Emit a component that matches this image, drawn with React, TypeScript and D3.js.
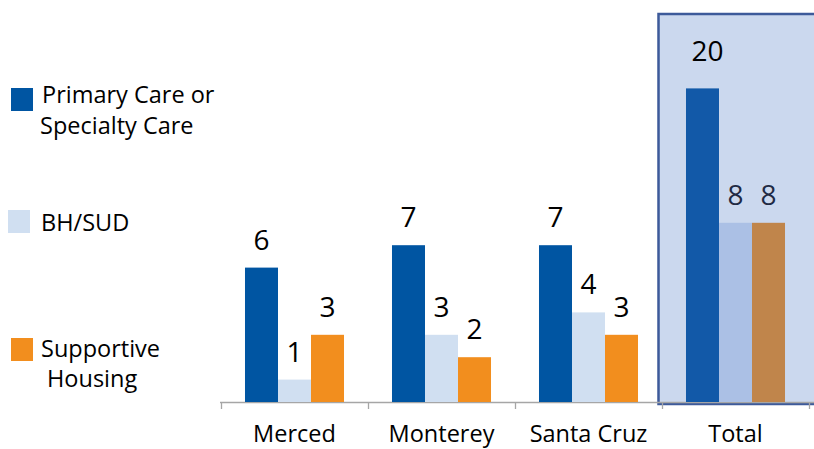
import React from "react";
import * as d3 from "d3";

const categories = ["Merced", "Monterey", "Santa Cruz", "Total"];
const seriesNames = ["Primary Care or Specialty Care", "BH/SUD", "Supportive Housing"];
const primaryCare = [6, 7, 7, 20];
const bhSud = [1, 3, 4, 8];
const supportiveHousing = [3, 2, 3, 8];
const legendLines = [["Primary Care or", "Specialty Care"], ["BH/SUD"], ["Supportive", "Housing"]];

const colors = ["#0055a2", "#d0dff1", "#f28e1e"];
const totalColors = ["#1259a8", "#abc0e5", "#c0854b"];
const FONT = "'Open Sans', 'Noto Sans', sans-serif";

export default function App() {
  const W = 814, H = 449;
  const baseY = 402;
  const x0 = d3.scaleBand<string>().domain(categories).range([221, 809]).paddingInner(0).paddingOuter(0);
  const x1 = d3.scaleBand<number>().domain([0, 1, 2]).range([0, x0.bandwidth()]).paddingInner(0).paddingOuter(0.727);
  const y = d3.scaleLinear().domain([0, 14]).range([baseY, baseY - 14 * 22.4]).clamp(true);
  const series = [primaryCare, bhSud, supportiveHousing];

  const totalX = x0("Total")!;
  return (
    <svg width={W} height={H} style={{ position: "absolute", left: 0, top: 0 }} fontFamily={FONT}>
      <rect x={0} y={0} width={W} height={H} fill="#fff" />
      {/* Total highlight box */}
      <rect x={totalX - 3.5} y={14} width={W - totalX + 10} height={baseY + 2 - 14} fill="#cbd8ee" stroke="#3d5a9a" strokeWidth={2.5} />
      {/* axis */}
      <line x1={220} x2={W} y1={baseY + 0.5} y2={baseY + 0.5} stroke="#a6a6a6" strokeWidth={1.3} />
      {[...categories.map((c) => x0(c)!), 809].map((t, i) => (
        <line key={i} x1={t + 0.5} x2={t + 0.5} y1={baseY} y2={baseY + 7} stroke="#a6a6a6" strokeWidth={1.3} />
      ))}
      {categories.map((c, ci) => (
        <g key={c}>
          {series.map((s, si) => {
            const v = s[ci];
            const bx = x0(c)! + x1(si)!;
            const top = y(v);
            const isTotal = c === "Total";
            return (
              <g key={si}>
                <rect x={bx} y={top} width={x1.bandwidth()} height={baseY - top} fill={isTotal ? totalColors[si] : colors[si]} />
                <text x={bx + x1.bandwidth() / 2 + (v >= 10 ? 5 : 0)} y={top - (v >= 10 ? 27 : 18)} textAnchor="middle" fontSize={28} fill={isTotal && si > 0 ? "#1f2a44" : "#000"}>
                  {v}
                </text>
              </g>
            );
          })}
          <text x={x0(c)! + x0.bandwidth() / 2} y={441.5} textAnchor="middle" fontSize={23.5} fill="#000">
            {c}
          </text>
        </g>
      ))}
      {/* legend */}
      {seriesNames.map((n, i) => {
        const sq = [[11, 88], [8, 210], [11, 338]][i];
        const txt = [[[42, 103], [40, 134]], [[41, 231]], [[41, 357], [47, 387]]][i];
        return (
          <g key={n}>
            <rect x={sq[0]} y={sq[1]} width={22} height={23} fill={colors[i]} />
            {legendLines[i].map((l, li) => (
              <text key={li} x={txt[li][0]} y={txt[li][1]} fontSize={23.5} fill="#000">
                {l}
              </text>
            ))}
          </g>
        );
      })}
    </svg>
  );
}
